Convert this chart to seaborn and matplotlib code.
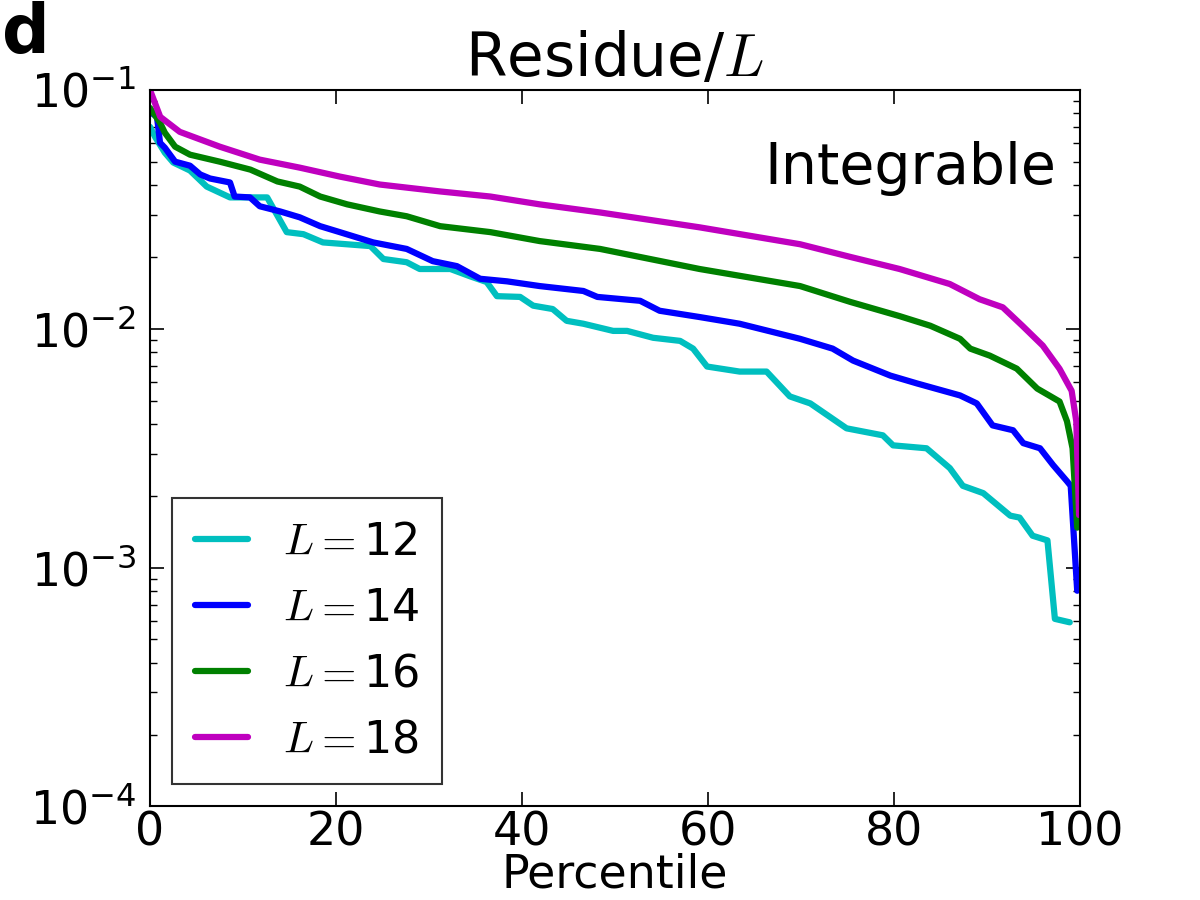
import numpy as np
import pandas as pd
import seaborn as sns
import matplotlib
matplotlib.use("Agg")
import matplotlib.pyplot as plt
from matplotlib.ticker import FuncFormatter, LogLocator, NullFormatter

# ---- data ----
x_L12 = [0, 0.54, 1.6, 2.5, 4.3, 6.1, 8.6, 12.6, 14.7, 16.5, 18.6, 23.7, 25.1, 27.6, 29.0, 32.3,
         34.4, 36.2, 37.3, 39.8, 41.2, 43.3, 44.8, 46.6, 49.8, 51.3, 54.1, 57.0, 58.4, 59.9, 63.4,
         66.3, 68.8, 71.0, 74.9, 78.8, 79.9, 83.5, 86.0, 87.4, 89.6, 92.5, 93.5, 94.9, 96.5, 97.3, 98.9]
y_L12 = [0.0701, 0.0637, 0.0546, 0.0497, 0.046, 0.0394, 0.0355, 0.0355, 0.0254, 0.0249, 0.0230,
         0.0222, 0.0196, 0.0190, 0.0178, 0.0178, 0.0166, 0.0157, 0.0137, 0.0136, 0.0125, 0.0121,
         0.0108, 0.0105, 0.0098, 0.0098, 0.00917, 0.0089, 0.00826, 0.00695, 0.00662, 0.00662,
         0.00521, 0.00487, 0.00383, 0.00358, 0.00325, 0.00316, 0.00261, 0.0022, 0.00205, 0.00165,
         0.00162, 0.00136, 0.0013, 0.00061, 0.00059]

x_L14 = [0, 0.75, 1.08, 1.6, 2.7, 4.3, 5.4, 6.45, 8.6, 9.1, 10.75, 11.8, 14.0, 16.1, 18.3, 20.4,
         24.0, 27.6, 30.4, 33.0, 35.5, 38.4, 41.9, 46.6, 48.1, 52.7, 54.8, 59.1, 63.4, 69.9, 73.4,
         75.6, 79.6, 82.5, 87.1, 88.9, 90.6, 92.8, 93.9, 95.7, 97.1, 98.6, 99.0, 99.7]
y_L14 = [0.081, 0.0772, 0.0601, 0.0573, 0.0501, 0.0482, 0.0443, 0.0426, 0.041, 0.0358, 0.0355,
         0.0326, 0.0310, 0.0293, 0.0269, 0.0254, 0.0230, 0.0216, 0.0192, 0.0183, 0.0162, 0.0158,
         0.0151, 0.0144, 0.0136, 0.0131, 0.0119, 0.0112, 0.0105, 0.00908, 0.00826, 0.00736,
         0.00637, 0.0059, 0.00526, 0.00487, 0.00394, 0.00376, 0.00332, 0.00316, 0.00269, 0.0023,
         0.0022, 0.0008]

x_L16 = [0, 1.08, 1.6, 2.7, 4.3, 7.5, 10.8, 13.7, 16.1, 18.3, 21.2, 24.7, 27.6, 31.2, 36.6, 41.9,
         48.4, 59.1, 69.9, 75.3, 80.6, 83.9, 87.1, 88.2, 90.3, 93.2, 95.4, 97.8, 98.6, 99.2, 99.7]
y_L16 = [0.0841, 0.0729, 0.0662, 0.0579, 0.0536, 0.0501, 0.0464, 0.0414, 0.0394, 0.0358, 0.0332,
         0.0310, 0.0296, 0.0269, 0.0254, 0.0233, 0.0216, 0.0178, 0.0151, 0.01296, 0.0113, 0.0103,
         0.00908, 0.00826, 0.00772, 0.00681, 0.00562, 0.00496, 0.0041, 0.00316, 0.00147]

x_L18 = [0, 1.1, 3.2, 7.5, 11.8, 16.1, 20.4, 24.7, 31.2, 36.6, 41.9, 48.4, 59.1, 69.9, 75.3,
         80.6, 86.0, 89.2, 91.7, 93.8, 96.0, 97.8, 99.1, 99.6, 99.9]
y_L18 = [0.1, 0.0772, 0.0668, 0.0579, 0.0511, 0.0473, 0.0434, 0.0402, 0.0376, 0.0358, 0.0332,
         0.0307, 0.0266, 0.0226, 0.0200, 0.0178, 0.0154, 0.0133, 0.0123, 0.0103, 0.0085, 0.0068,
         0.0055, 0.0041, 0.00166]

labels = [r"$L=$12", r"$L=$14", r"$L=$16", r"$L=$18"]
colors = ["#00BFBF", "#0000FF", "#008000", "#BF00BF"]

series = [(x_L12, y_L12), (x_L14, y_L14), (x_L16, y_L16), (x_L18, y_L18)]
frames = []
for lab, (xs, ys) in zip(labels, series):
    frames.append(pd.DataFrame({"Percentile": xs, "Residue": ys, "L": lab}))
df = pd.concat(frames, ignore_index=True)

# ---- style ----
sns.set_theme(style="white")
plt.rcParams["font.family"] = ["DejaVu Sans"]
plt.rcParams["mathtext.fontset"] = "cm"
plt.rcParams["axes.unicode_minus"] = False
for k in ["text.color", "axes.labelcolor", "xtick.color", "ytick.color", "axes.edgecolor"]:
    plt.rcParams[k] = "black"
plt.rcParams["axes.linewidth"] = 1.5

fig = plt.figure(figsize=(12, 9), dpi=100)
ax = fig.add_axes([0.125, 0.104, 0.775, 0.796])

sns.lineplot(data=df, x="Percentile", y="Residue", hue="L", palette=dict(zip(labels, colors)),
             hue_order=labels, linewidth=4.5, ax=ax, sort=False, estimator=None)

ax.set_yscale("log")
ax.set_xlim(0, 100)
ax.set_ylim(1e-4, 1e-1)
ax.set_xticks([0, 20, 40, 60, 80, 100])
ax.yaxis.set_major_locator(LogLocator(base=10, numticks=10))
ax.yaxis.set_minor_locator(LogLocator(base=10, subs=np.arange(2, 10), numticks=20))
ax.yaxis.set_minor_formatter(NullFormatter())
ax.yaxis.set_major_formatter(FuncFormatter(
    lambda v, p: r"$\mathregular{10^{%d}}$" % int(round(np.log10(v)))))
ax.tick_params(axis="both", which="both", direction="in", top=True, right=True,
               left=True, bottom=True, labelsize=33, color="black")
ax.tick_params(axis="both", which="major", length=10, width=1.2, pad=10)
ax.tick_params(axis="x", which="major", pad=3)
ax.tick_params(axis="y", which="minor", length=5, width=1.0)
ax.tick_params(axis="x", which="minor", length=0)

ax.set_xlabel("Percentile", fontsize=33, labelpad=-2)
ax.set_ylabel("")
ax.set_title(r"Residue/$L$", fontsize=43, pad=10)
ax.text(0.975, 0.89, "Integrable", transform=ax.transAxes, fontsize=41,
        ha="right", va="center")
fig.text(0.002, 0.962, "d", fontsize=48, fontweight="bold", ha="left", va="center")

leg = ax.legend(loc="lower left", bbox_to_anchor=(0.024, 0.031), fontsize=32,
                frameon=True, fancybox=False, handlelength=1.2, borderpad=0.5,
                labelspacing=0.52, handletextpad=0.8, borderaxespad=0)
leg.get_frame().set_edgecolor("black")
leg.get_frame().set_linewidth(1.5)
for h in leg.get_lines():
    h.set_linewidth(4.5)

fig.savefig("out.png", dpi=100)
